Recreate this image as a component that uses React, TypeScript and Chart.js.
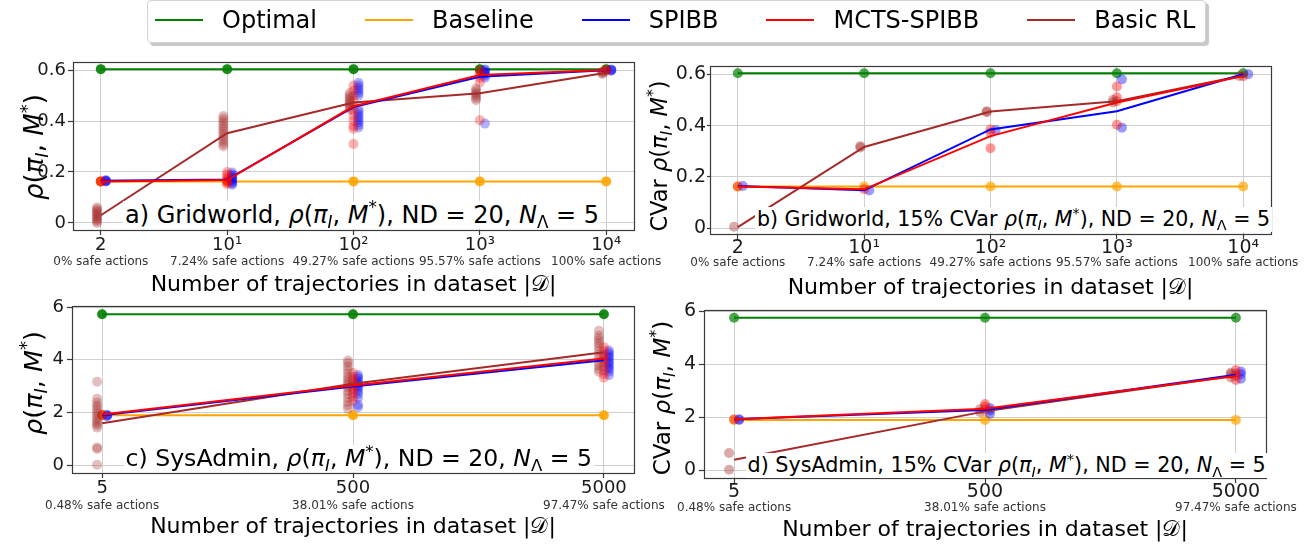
import React, { useEffect, useRef } from "react";
import { Chart, registerables } from "chart.js";
Chart.register(...registerables);

const FONT = "'DejaVu Sans', 'Liberation Sans', sans-serif";

// ---------- legend ----------
const seriesNames = ["Optimal", "Baseline", "SPIBB", "MCTS-SPIBB", "Basic RL"];
const seriesColors = ["#008000", "#FFA500", "#0000FF", "#FF0000", "#A52A2A"];

// ---------- Gridworld (a, b) ----------
const gridTickLabels = ["2", "10¹", "10²", "10³", "10⁴"];
const gridSafeLabels = ["0% safe actions", "7.24% safe actions", "49.27% safe actions", "95.57% safe actions", "100% safe actions"];
const gridYTicks = [0, 0.2, 0.4, 0.6];
const gridYLabels = ["0", "0.2", "0.4", "0.6"];

// panel a: rho(pi_I, M*)
const aOptimal = [0.604, 0.604, 0.604, 0.604, 0.604];
const aBaseline = [0.163, 0.163, 0.163, 0.163, 0.163];
const aSpibb = [0.165, 0.17, 0.455, 0.574, 0.6];
const aMcts = [0.163, 0.168, 0.458, 0.581, 0.601];
const aBasic = [0.03, 0.352, 0.473, 0.509, 0.59];
const aSpibbRuns = [
  [0.163, 0.164, 0.165, 0.166, 0.167],
  [0.15, 0.155, 0.16, 0.165, 0.17, 0.175, 0.18, 0.185, 0.19, 0.198],
  [0.375, 0.385, 0.395, 0.405, 0.415, 0.425, 0.435, 0.445, 0.5, 0.51, 0.52, 0.53, 0.54, 0.55],
  [0.39, 0.57, 0.578, 0.585, 0.59, 0.595, 0.6, 0.603],
  [0.598, 0.6, 0.601, 0.603],
];
const aMctsRuns = [
  [0.162, 0.163, 0.164],
  [0.152, 0.158, 0.165, 0.172, 0.18, 0.19, 0.2],
  [0.31, 0.37, 0.38, 0.4, 0.42, 0.44, 0.46, 0.48, 0.5, 0.52, 0.54],
  [0.403, 0.552, 0.57, 0.582, 0.592, 0.6],
  [0.596, 0.6, 0.602],
];
const aBasicRuns = [
  [0.0, 0.006, 0.012, 0.018, 0.024, 0.03, 0.036, 0.042, 0.048, 0.054, 0.06],
  [0.3, 0.31, 0.32, 0.33, 0.34, 0.35, 0.36, 0.37, 0.38, 0.39, 0.4, 0.41, 0.42],
  [0.447, 0.455, 0.462, 0.47, 0.477, 0.485, 0.492, 0.5, 0.51],
  [0.482, 0.49, 0.498, 0.505, 0.512, 0.52, 0.528],
  [0.585, 0.589, 0.592, 0.595],
];

// panel b: 15% CVaR
const bOptimal = [0.604, 0.604, 0.604, 0.604, 0.604];
const bBaseline = [0.163, 0.163, 0.163, 0.163, 0.163];
const bSpibb = [0.165, 0.148, 0.385, 0.456, 0.6];
const bMcts = [0.163, 0.152, 0.359, 0.49, 0.593];
const bBasic = [0.005, 0.317, 0.455, 0.495, 0.595];
const bSpibbRuns = [[0.165], [0.147], [0.383], [0.392, 0.58], [0.6]];
const bMctsRuns = [[0.163], [0.152], [0.312, 0.372, 0.385], [0.403, 0.495, 0.51, 0.552], [0.592]];
const bBasicRuns = [[0.006], [0.315, 0.32], [0.452, 0.456], [0.49, 0.5], [0.593]];

// ---------- SysAdmin (c, d) ----------
const sysTickLabels = ["5", "500", "5000"];
const sysSafeLabels = ["0.48% safe actions", "38.01% safe actions", "97.47% safe actions"];
const sysYTicks = [0, 2, 4, 6];
const sysYLabels = ["0", "2", "4", "6"];

// panel c
const cOptimal = [5.73, 5.73, 5.73];
const cBaseline = [1.9, 1.9, 1.9];
const cSpibb = [1.9, 2.99, 3.98];
const cMcts = [1.93, 3.03, 4.05];
const cBasic = [1.6, 3.09, 4.29];
const cSpibbRuns = [
  [1.86, 1.88, 1.9, 1.92],
  [2.2, 2.3, 2.55, 2.7, 2.8, 2.9, 2.98, 3.05, 3.12, 3.2, 3.28, 3.35, 3.42],
  [3.42, 3.55, 3.65, 3.72, 3.8, 3.88, 3.95, 4.05, 4.12, 4.2, 4.28, 4.35],
];
const cMctsRuns = [
  [1.9, 1.93],
  [2.45, 2.6, 2.75, 2.85, 2.95, 3.05, 3.15, 3.25, 3.35, 3.5],
  [3.32, 3.45, 3.6, 3.75, 3.9, 4.0, 4.1, 4.2, 4.35, 4.48],
];
const cBasicRuns = [
  [0.02, 0.62, 0.68, 1.43, 1.52, 1.6, 1.68, 1.77, 1.87, 1.97, 2.07, 2.18, 2.27, 2.38, 2.52, 3.17],
  [2.15, 2.28, 2.4, 2.55, 2.7, 2.82, 2.95, 3.05, 3.15, 3.25, 3.35, 3.48, 3.62, 3.75, 3.88, 3.97],
  [3.55, 3.65, 3.78, 3.9, 4.05, 4.2, 4.35, 4.5, 4.62, 4.72, 4.82, 4.92, 5.1],
];

// panel d
const dOptimal = [5.75, 5.75, 5.75];
const dBaseline = [1.9, 1.9, 1.9];
const dSpibb = [1.92, 2.27, 3.6];
const dMcts = [1.92, 2.32, 3.55];
const dBasic = [0.4, 2.22, 3.57];
const dSpibbRuns = [[1.9, 1.92], [2.12, 2.25, 2.35], [3.45, 3.62, 3.72]];
const dMctsRuns = [[1.92], [2.28, 2.4, 2.5], [3.4, 3.55, 3.65, 3.78]];
const dBasicRuns = [[0.02, 0.65], [2.2, 2.3], [3.5, 3.62, 3.68]];

// ---------- layout ----------
const Y_W = 60;
const PAD_T = 15;
const PAD_R = 45;
const X2_H = 18;

type Spec = {
  key: string;
  frame: { l: number; t: number; r: number; b: number };
  xMin: number; xMax: number; yMin: number; yMax: number;
  xLabels: string[]; safeLabels: string[];
  yTicks: number[]; yLabels: string[];
  optimal: number[]; baseline: number[]; spibb: number[]; mcts: number[]; basic: number[];
  spibbRuns: number[][]; mctsRuns: number[][]; basicRuns: number[][];
  offs: number[];
  refAlpha: number; runAlpha: number;
  tickFont: number; xH: number; xPad: number; yPad: number; yTl: number;
};

const specs: Spec[] = [
  {
    key: "a", frame: { l: 73, t: 62, r: 634, b: 230 },
    xMin: -0.22, xMax: 4.22, yMin: -0.028, yMax: 0.632,
    xLabels: gridTickLabels, safeLabels: gridSafeLabels, yTicks: gridYTicks, yLabels: gridYLabels,
    optimal: aOptimal, baseline: aBaseline, spibb: aSpibb, mcts: aMcts, basic: aBasic,
    spibbRuns: aSpibbRuns, mctsRuns: aMctsRuns, basicRuns: aBasicRuns,
    offs: [0.04, 0, -0.03], refAlpha: 0.9, runAlpha: 0.3,
    tickFont: 18, xH: 25, xPad: 0, yPad: 2, yTl: 5,
  },
  {
    key: "b", frame: { l: 710, t: 66, r: 1271, b: 234 },
    xMin: -0.22, xMax: 4.22, yMin: -0.022, yMax: 0.632,
    xLabels: gridTickLabels, safeLabels: gridSafeLabels, yTicks: gridYTicks, yLabels: gridYLabels,
    optimal: bOptimal, baseline: bBaseline, spibb: bSpibb, mcts: bMcts, basic: bBasic,
    spibbRuns: bSpibbRuns, mctsRuns: bMctsRuns, basicRuns: bBasicRuns,
    offs: [0.04, 0, -0.03], refAlpha: 0.7, runAlpha: 0.4,
    tickFont: 19, xH: 22, xPad: -2, yPad: 1, yTl: 3,
  },
  {
    key: "c", frame: { l: 72, t: 306, r: 634, b: 473 },
    xMin: -0.12, xMax: 2.12, yMin: -0.29, yMax: 6.04,
    xLabels: sysTickLabels, safeLabels: sysSafeLabels, yTicks: sysYTicks, yLabels: sysYLabels,
    optimal: cOptimal, baseline: cBaseline, spibb: cSpibb, mcts: cMcts, basic: cBasic,
    spibbRuns: cSpibbRuns, mctsRuns: cMctsRuns, basicRuns: cBasicRuns,
    offs: [0.02, 0, -0.02], refAlpha: 0.9, runAlpha: 0.3,
    tickFont: 18, xH: 26, xPad: 0, yPad: 3, yTl: 5,
  },
  {
    key: "d", frame: { l: 704, t: 310, r: 1266, b: 478 },
    xMin: -0.12, xMax: 2.12, yMin: -0.29, yMax: 6.04,
    xLabels: sysTickLabels, safeLabels: sysSafeLabels, yTicks: sysYTicks, yLabels: sysYLabels,
    optimal: dOptimal, baseline: dBaseline, spibb: dSpibb, mcts: dMcts, basic: dBasic,
    spibbRuns: dSpibbRuns, mctsRuns: dMctsRuns, basicRuns: dBasicRuns,
    offs: [0.02, 0, -0.02], refAlpha: 0.7, runAlpha: 0.4,
    tickFont: 19, xH: 23, xPad: -2, yPad: 3, yTl: 5,
  },
];

function rgba(hex: string, a: number) {
  const n = parseInt(hex.slice(1), 16);
  return `rgba(${(n >> 16) & 255},${(n >> 8) & 255},${n & 255},${a})`;
}

const FRAME_C = "#3a3a3a";
const GRID_C = "#cfcfcf";
const TEXT_C = "#1a1a1a";

const framePlugin = {
  id: "frameBox",
  afterDatasetsDraw(chart: any) {
    const { ctx, chartArea: a } = chart;
    ctx.save();
    ctx.strokeStyle = FRAME_C;
    ctx.lineWidth = 1.2;
    ctx.strokeRect(Math.round(a.left) + 0.5, Math.round(a.top) + 0.5, Math.round(a.right - a.left), Math.round(a.bottom - a.top));
    ctx.restore();
  },
};

function buildConfig(s: Spec): any {
  const [cOpt, cBase, cSp, cMc, cRl] = seriesColors;
  const mean = (v: number[]) => v.map((y, i) => ({ x: i, y }));
  const runs = (r: number[][], off: number) => r.flatMap((vals, i) => vals.map((y) => ({ x: i + off, y })));
  const line = (data: any[], color: string, pr = 0, pc = "rgba(0,0,0,0)") => ({
    data, showLine: true, borderColor: color, borderWidth: 2, pointRadius: pr, pointHoverRadius: pr,
    pointBackgroundColor: pc, pointBorderWidth: 0, pointBorderColor: "rgba(0,0,0,0)", tension: 0, fill: false,
  });
  const cloud = (data: any[], color: string) => ({
    data, showLine: false, pointRadius: 5, pointHoverRadius: 5, pointBackgroundColor: color,
    pointBorderWidth: 0, pointBorderColor: "rgba(0,0,0,0)",
  });
  const xTickVals = s.xLabels.map((_, i) => ({ value: i }));
  return {
    type: "scatter",
    data: {
      datasets: [
        line(mean(s.mcts), cMc),
        line(mean(s.spibb), cSp),
        line(mean(s.basic), cRl),
        cloud(runs(s.basicRuns, s.offs[2]), rgba(cRl, s.runAlpha)),
        cloud(runs(s.mctsRuns, s.offs[1]), rgba(cMc, s.runAlpha)),
        cloud(runs(s.spibbRuns, s.offs[0]), rgba(cSp, s.runAlpha)),
        line(mean(s.baseline), cBase, 5, rgba(cBase, s.refAlpha)),
        line(mean(s.optimal), cOpt, 5, rgba(cOpt, s.refAlpha)),
      ],
    },
    options: {
      animation: false,
      responsive: false,
      events: [],
      layout: { padding: { top: PAD_T, right: PAD_R, left: 0, bottom: 0 } },
      plugins: { legend: { display: false }, tooltip: { enabled: false }, title: { display: false } },
      scales: {
        x: {
          type: "linear", position: "bottom", weight: 0, min: s.xMin, max: s.xMax,
          afterBuildTicks: (sc: any) => { sc.ticks = xTickVals.map((t) => ({ ...t })); },
          afterFit: (sc: any) => { sc.height = s.xH; },
          grid: { display: true, color: GRID_C, lineWidth: 1, drawTicks: true, tickLength: 5, tickColor: FRAME_C, tickWidth: 1.2 },
          border: { display: false },
          ticks: {
            autoSkip: false, maxRotation: 0, minRotation: 0, padding: s.xPad, color: TEXT_C,
            font: { family: FONT, size: s.tickFont },
            callback: (_v: any, i: number) => s.xLabels[i],
          },
        },
        x2: {
          type: "linear", position: "bottom", weight: 1, min: s.xMin, max: s.xMax,
          afterBuildTicks: (sc: any) => { sc.ticks = xTickVals.map((t) => ({ ...t })); },
          afterFit: (sc: any) => { sc.height = X2_H; },
          grid: { display: false, drawTicks: false },
          border: { display: false },
          ticks: {
            autoSkip: false, maxRotation: 0, minRotation: 0, padding: 0, color: "#333",
            font: { family: FONT, size: 12 },
            callback: (_v: any, i: number) => s.safeLabels[i],
          },
        },
        y: {
          type: "linear", position: "left", min: s.yMin, max: s.yMax,
          afterBuildTicks: (sc: any) => { sc.ticks = s.yTicks.map((v) => ({ value: v })); },
          afterFit: (sc: any) => { sc.width = Y_W; },
          grid: { display: true, color: GRID_C, lineWidth: 1, drawTicks: true, tickLength: s.yTl, tickColor: FRAME_C, tickWidth: 1.2 },
          border: { display: false },
          ticks: {
            autoSkip: false, padding: s.yPad, color: TEXT_C,
            font: { family: FONT, size: s.tickFont },
            callback: (_v: any, i: number) => s.yLabels[i],
          },
        },
      },
    },
    plugins: [framePlugin],
  };
}

function Panel({ spec }: { spec: Spec }) {
  const ref = useRef<HTMLCanvasElement>(null);
  const { l, t, r, b } = spec.frame;
  const w = r - l + Y_W + PAD_R;
  const h = b - t + PAD_T + spec.xH + X2_H;
  useEffect(() => {
    const chart = new Chart(ref.current as HTMLCanvasElement, buildConfig(spec));
    return () => chart.destroy();
  }, [spec]);
  return (
    <canvas ref={ref} width={w} height={h}
      style={{ position: "absolute", left: l - Y_W, top: t - PAD_T, width: w, height: h }} />
  );
}

// ---------- rich text overlays ----------
const Sub = ({ children }: any) => <span style={{ fontSize: "70%", position: "relative", top: "0.3em" }}>{children}</span>;
const Sup = ({ children }: any) => <span style={{ fontSize: "70%", position: "relative", top: "-0.55em" }}>{children}</span>;
const RhoExpr = () => (
  <>
    <i>ρ</i>(<i>π</i><Sub><i>I</i></Sub>, <i>M</i><Sup>*</Sup>)
  </>
);

function TextAt({ x, base, size, center, box, children }: any) {
  const pad = box ? 2 : 0;
  return (
    <div
      style={{
        position: "absolute", left: x - pad, top: base - 0.846 * size - pad,
        fontSize: size, lineHeight: `${size}px`, whiteSpace: "nowrap", color: "#000",
        transform: center ? "translateX(-50%)" : undefined,
        background: box ? "#fff" : undefined,
        padding: box ? `${pad}px ${pad}px 0px ${pad}px` : 0,
      }}
    >
      {children}
    </div>
  );
}

function YTitle({ cx, cy, size, prefix }: any) {
  return (
    <div
      style={{
        position: "absolute", left: cx, top: cy, fontSize: size, lineHeight: `${size}px`,
        whiteSpace: "nowrap", color: "#000", transform: "translate(-50%,-50%) rotate(-90deg)",
      }}
    >
      {prefix}<RhoExpr />
    </div>
  );
}

const XTitleText = () => <>Number of trajectories in dataset |𝒟|</>;

const annotations = [
  { x: 125, base: 223, size: 24, head: "a) Gridworld, " },
  { x: 757, base: 226.5, size: 20.55, head: "b) Gridworld, 15% CVar " },
  { x: 125.5, base: 466.7, size: 23.6, head: "c) SysAdmin, " },
  { x: 747.5, base: 472.7, size: 20.7, head: "d) SysAdmin, 15% CVar " },
];
const yTitles = [
  { cx: 35, cy: 147, size: 26, prefix: "" },
  { cx: 661, cy: 156, size: 22.5, prefix: "CVar " },
  { cx: 35, cy: 383, size: 25.5, prefix: "" },
  { cx: 663, cy: 398, size: 23, prefix: "CVar " },
];
const xTitles = [
  { cx: 353.5, base: 292 },
  { cx: 990.5, base: 295 },
  { cx: 353, base: 533.5 },
  { cx: 985, base: 537 },
];

function Legend() {
  return (
    <div
      style={{
        position: "absolute", left: 147, top: 0, height: 43, boxSizing: "border-box",
        border: "1px solid #d4d4d4", borderRadius: 4, background: "#fff",
        boxShadow: "3px 3px 1px rgba(0,0,0,0.22)", display: "flex", alignItems: "center",
        paddingLeft: 7, paddingRight: 10, paddingBottom: 3, gap: 48, fontSize: 24, color: "#000",
      }}
    >
      {seriesNames.map((name, i) => (
        <div key={name} style={{ display: "flex", alignItems: "center" }}>
          <span style={{ display: "inline-block", width: 48, height: 2, background: seriesColors[i], marginRight: 19 }} />
          <span>{name}</span>
        </div>
      ))}
    </div>
  );
}

export default function App() {
  return (
    <div style={{ position: "absolute", left: 0, top: 0, width: 1309, height: 548, overflow: "hidden", background: "#fff", fontFamily: FONT }}>
      {specs.map((s) => <Panel key={s.key} spec={s} />)}
      {yTitles.map((y, i) => <YTitle key={"y" + i} {...y} />)}
      {xTitles.map((x, i) => (
        <TextAt key={"x" + i} x={x.cx} base={x.base} size={22} center><XTitleText /></TextAt>
      ))}
      {annotations.map((a, i) => (
        <TextAt key={"a" + i} x={a.x} base={a.base} size={a.size} box>
          {a.head}<RhoExpr />, ND = 20, <i>N</i><Sub>Λ</Sub> = 5
        </TextAt>
      ))}
      <Legend />
    </div>
  );
}
